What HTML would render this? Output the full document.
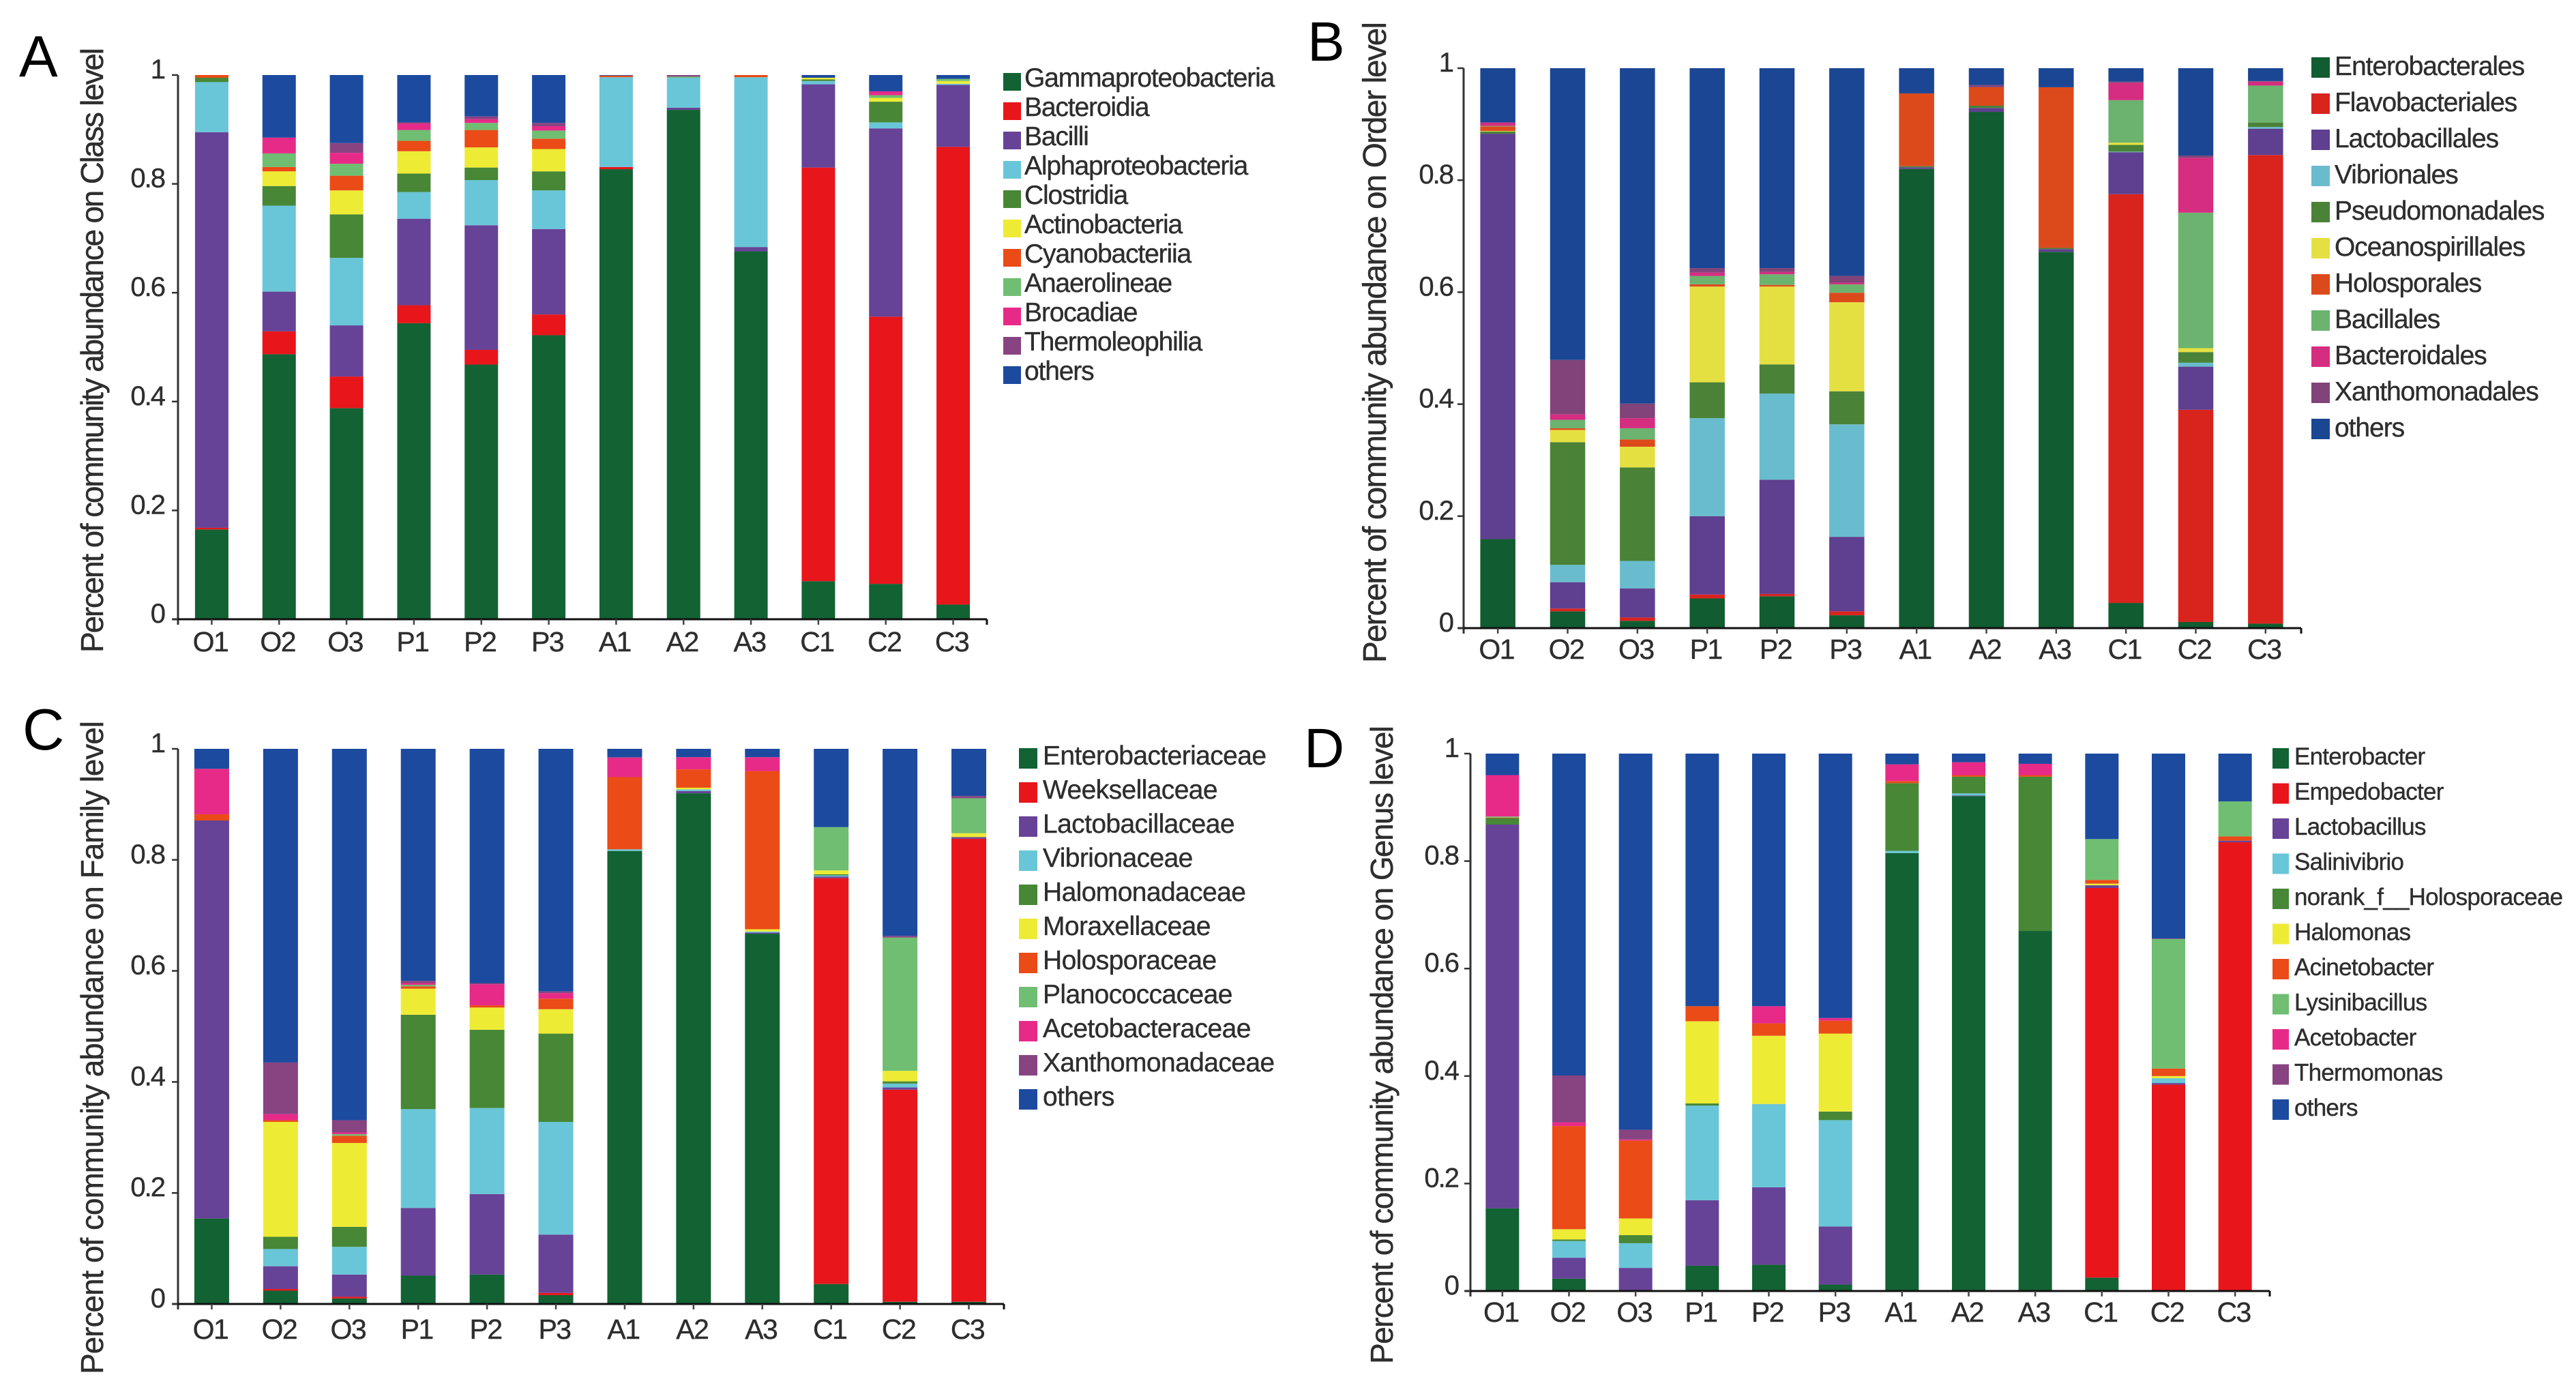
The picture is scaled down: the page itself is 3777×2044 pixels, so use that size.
<!DOCTYPE html>
<html lang="en">
<head>
<meta charset="utf-8">
<title>Community abundance stacked bars</title>
<style>
html,body{margin:0;padding:0;background:#fff;width:3777px;height:2044px;overflow:hidden}
svg{display:block}
text{font-family:"Liberation Sans",Arial,sans-serif;fill:#2e2e2e;stroke:#2e2e2e;stroke-width:.4}
</style>
</head>
<body>
<svg id="figure" xmlns="http://www.w3.org/2000/svg" width="3777" height="2044" viewBox="0 0 3777 2044"></svg>
<script>
const categories = ['O1','O2','O3','P1','P2','P3','A1','A2','A3','C1','C2','C3'];
const yTickValues = [0,0.2,0.4,0.6,0.8,1];
const yTickLabels = ['0','0.2','0.4','0.6','0.8','1'];

const classNames = ['Gammaproteobacteria','Bacteroidia','Bacilli','Alphaproteobacteria','Clostridia','Actinobacteria','Cyanobacteriia','Anaerolineae','Brocadiae','Thermoleophilia','others'];
const orderNames = ['Enterobacterales','Flavobacteriales','Lactobacillales','Vibrionales','Pseudomonadales','Oceanospirillales','Holosporales','Bacillales','Bacteroidales','Xanthomonadales','others'];
const familyNames = ['Enterobacteriaceae','Weeksellaceae','Lactobacillaceae','Vibrionaceae','Halomonadaceae','Moraxellaceae','Holosporaceae','Planococcaceae','Acetobacteraceae','Xanthomonadaceae','others'];
const genusNames = ['Enterobacter','Empedobacter','Lactobacillus','Salinivibrio','norank_f__Holosporaceae','Halomonas','Acinetobacter','Lysinibacillus','Acetobacter','Thermomonas','others'];

/* one row per sample (O1..C3), one value per taxon in legend order, bottom of the stack first */
const classValues = [
 [.165,.003,.727,.092,.008,0,.005,0,0,0,0],
 [.487,.042,.073,.158,.036,.027,.008,.025,.029,0,.115],
 [.388,.058,.094,.124,.080,.044,.027,.022,.020,.018,.125],
 [.544,.033,.159,.049,.034,.041,.019,.020,.012,.002,.087],
 [.468,.027,.229,.083,.023,.037,.032,.013,.007,.005,.076],
 [.522,.038,.157,.071,.035,.041,.019,.015,.008,.006,.088],
 [.827,.004,0,.165,0,0,.003,0,0,0,.001],
 [.936,0,.004,.055,0,0,0,.002,0,.003,0],
 [.676,0,.008,.312,0,0,.004,0,0,0,0],
 [.070,.760,.153,.006,.003,.003,0,0,0,0,.005],
 [.065,.491,.346,.011,.038,.007,0,.005,.007,0,.030],
 [.027,.841,.114,.002,0,.005,0,.004,0,0,.007]
];
const orderValues = [
 [.159,0,.724,0,.004,.001,.008,.001,.006,0,.097],
 [.030,.005,.047,.031,.219,.022,.003,.015,.010,.097,.521],
 [.013,.006,.052,.049,.167,.037,.013,.020,.018,.026,.599],
 [.053,.007,.140,.175,.064,.171,.004,.015,.006,.008,.357],
 [.057,.004,.204,.154,.052,.139,.003,.019,.004,.007,.357],
 [.023,.007,.133,.201,.059,.159,.017,.015,.003,.012,.371],
 [.820,0,.003,0,.002,0,.130,0,0,0,.045],
 [.922,0,.007,0,.004,0,.033,0,0,.004,.030],
 [.672,0,.005,0,.002,0,.287,0,0,0,.034],
 [.045,.730,.075,.001,.012,.004,0,.076,.031,.002,.024],
 [.011,.379,.077,.007,.019,.007,0,.242,.098,.004,.156],
 [.008,.837,.047,.003,.008,0,0,.066,.007,.001,.023]
];
const familyValues = [
 [.154,0,.717,0,0,0,.011,0,.082,0,.036],
 [.024,.003,.041,.031,.022,.207,.003,0,.011,.093,.565],
 [.010,.003,.040,.050,.036,.151,.013,.003,.003,.022,.669],
 [.051,0,.122,.178,.170,.047,.004,.003,.003,.004,.418],
 [.053,0,.145,.155,.141,.040,.004,0,.038,.002,.422],
 [.016,.004,.105,.203,.159,.044,.019,0,.010,.003,.437],
 [.816,0,0,.003,0,0,.130,0,.035,.001,.015],
 [.920,0,.004,.003,0,.003,.033,0,.022,0,.015],
 [.667,0,.002,.002,0,.004,.285,0,.025,0,.015],
 [.036,.731,.003,.002,.002,.007,0,.078,0,0,.141],
 [.004,.382,.004,.007,.004,.019,0,.240,0,.003,.337],
 [.004,.834,.003,0,0,.007,0,.063,0,.004,.085]
];
const genusValues = [
 [.154,0,.714,0,.012,0,.001,.002,.077,0,.040],
 [.023,0,.039,.031,.003,.019,.192,0,.007,.087,.599],
 [0,0,.043,.046,.015,.031,.145,0,.002,.018,.700],
 [.047,0,.122,.176,.004,.153,.028,0,0,0,.470],
 [.049,0,.144,.155,0,.127,.023,0,.032,0,.470],
 [.012,0,.108,.198,.016,.145,.024,0,.005,0,.492],
 [.815,0,0,.004,.126,0,.004,0,.031,0,.020],
 [.921,0,.001,.004,.031,0,.003,0,.024,0,.016],
 [.670,0,0,0,.287,0,.003,0,.021,0,.019],
 [.025,.725,.005,0,0,.003,.007,.076,0,0,.159],
 [0,.384,.003,.009,0,.004,.014,.241,0,.001,.344],
 [0,.835,.003,0,0,0,.008,.065,0,0,.089]
];

const brightColors = ['#126234','#e8151b','#674397','#69c6d8','#478735','#eeeb35','#ea4b17','#6fbe72','#e72a88','#884381','#1c4a9f'];
const mutedColors = ['#115c30','#d9241e','#5f3f8f','#69bccd','#4a8238','#e5e042','#dc4a1c','#6bb36e','#d52d80','#814379','#1a4694'];

const svg = document.getElementById('figure');
const NS = 'http://www.w3.org/2000/svg';

function make(tag, attrs, parent) {
  const el = document.createElementNS(NS, tag);
  for (const k in attrs) el.setAttribute(k, attrs[k]);
  parent.appendChild(el);
  return el;
}

function drawPanel(p) {
  const root = make('g', {}, svg);
  
  

  const band = (p.x1 - p.x0) / p.categories.length;
  const xScale = i => p.x0 + band * (i + 0.5) + p.dx;
  const yScale = v => p.yBase - (p.yBase - p.yTop) * v;

  const letter = make('text', {x: p.letterX, y: p.letterY, 'font-size': p.letterSize, style: 'fill:#000;stroke:none'}, root);
  letter.textContent = p.letter;
  
  

  p.values.forEach((row, i) => {
    const group = make('g', {}, root);
    
    
    let cumulative = 0;
    row.forEach((v, s) => {
      if (v <= 0) return;
      const top = yScale(cumulative + v);
      const bottom = yScale(cumulative);
      const seg = make('rect', {
        x: xScale(i) - p.barW / 2, y: top, width: p.barW, height: bottom - top, fill: p.colors[s]
      }, group);
      
      
      cumulative += v;
    });
  });

  const yAxis = make('line', {x1: p.x0, x2: p.x0, y1: p.yTop, y2: p.yBase + 8, stroke: '#333', 'stroke-width': 3}, root);
  
  
  const xAxis = make('line', {x1: p.x0 - 8, x2: p.x1, y1: p.yBase, y2: p.yBase, stroke: '#111', 'stroke-width': 3}, root);
  
  
  make('line', {x1: p.x1, x2: p.x1, y1: p.yBase, y2: p.yBase + 8, stroke: '#111', 'stroke-width': 3}, root);

  yTickValues.forEach((v, i) => {
    make('line', {x1: p.x0 - 9, x2: p.x0, y1: yScale(v), y2: yScale(v), stroke: '#333', 'stroke-width': 2.5}, root);
    const t = make('text', {x: p.x0 - p.yLabelGap, y: yScale(v) + 5, 'text-anchor': 'end', 'font-size': 40, 'letter-spacing': '-2'}, root);
    t.textContent = yTickLabels[i];
    
    
  });

  p.categories.forEach((c, i) => {
    make('line', {x1: xScale(i), x2: xScale(i), y1: p.yBase, y2: p.yBase + 8, stroke: '#444', 'stroke-width': 2.5}, root);
    const t = make('text', {x: xScale(i) - 2, y: p.yBase + p.xLabelGap, 'text-anchor': 'middle', 'font-size': 41, 'letter-spacing': '-1.5'}, root);
    t.textContent = c;
    
    
  });

  const title = make('text', {
    transform: 'translate(' + p.titleX + ',' + p.titleStart + ') rotate(-90)',
    'font-size': p.titleSize, textLength: p.titleLength, lengthAdjust: 'spacing'
  }, root);
  title.textContent = p.title;
  
  

  p.names.forEach((name, i) => {
    const entry = make('g', {}, root);
    
    
    make('rect', {x: p.legendX, y: p.legendY + i * p.legendStep, width: p.swatchW, height: p.swatchH, fill: p.colors[i]}, entry);
    const t = make('text', {
      x: p.legendTextX, y: p.legendBase + i * p.legendStep,
      'font-size': p.legendSize, 'letter-spacing': p.legendSpacing
    }, entry);
    t.textContent = name;
  });
}

drawPanel({
  letter: 'A', letterX: 28, letterY: 112, letterSize: 85,
  title: 'Percent of community abundance on Class level', titleX: 151, titleStart: 957, titleLength: 887, titleSize: 46,
  x0: 261, x1: 1447, yTop: 110, yBase: 908, dx: 0, barW: 49, yLabelGap: 20, xLabelGap: 47,
  categories: categories, names: classNames, values: classValues, colors: brightColors,
  legendX: 1471, legendY: 107, legendStep: 43, swatchW: 26, swatchH: 26,
  legendTextX: 1502, legendBase: 127, legendSize: 39, legendSpacing: '-1.15'
});
drawPanel({
  letter: 'B', letterX: 1917, letterY: 89, letterSize: 82,
  title: 'Percent of community abundance on Order level', titleX: 2032, titleStart: 972, titleLength: 940, titleSize: 48,
  x0: 2146, x1: 3374, yTop: 100, yBase: 921, dx: -1, barW: 51.5, yLabelGap: 16, xLabelGap: 45,
  categories: categories, names: orderNames, values: orderValues, colors: mutedColors,
  legendX: 3389, legendY: 84, legendStep: 53, swatchW: 27, swatchH: 30,
  legendTextX: 3423, legendBase: 110, legendSize: 39, legendSpacing: '-1.05'
});
drawPanel({
  letter: 'C', letterX: 33, letterY: 1099, letterSize: 85,
  title: 'Percent of community abundance on Family level', titleX: 151, titleStart: 2015, titleLength: 958, titleSize: 46,
  x0: 261, x1: 1472, yTop: 1098, yBase: 1912, dx: -1, barW: 51, yLabelGap: 20, xLabelGap: 51,
  categories: categories, names: familyNames, values: familyValues, colors: brightColors,
  legendX: 1494, legendY: 1097, legendStep: 50, swatchW: 27, swatchH: 30,
  legendTextX: 1529, legendBase: 1121, legendSize: 39, legendSpacing: '-0.6'
});
drawPanel({
  letter: 'D', letterX: 1912, letterY: 1125, letterSize: 82,
  title: 'Percent of community abundance on Genus level', titleX: 2042, titleStart: 2000, titleLength: 936, titleSize: 46,
  x0: 2156, x1: 3328, yTop: 1105, yBase: 1893, dx: -2, barW: 49, yLabelGap: 18, xLabelGap: 45,
  categories: categories, names: genusNames, values: genusValues, colors: brightColors,
  legendX: 3332, legendY: 1097, legendStep: 51.5, swatchW: 24, swatchH: 30,
  legendTextX: 3364, legendBase: 1121, legendSize: 35, legendSpacing: '-0.75'
});
</script>
</body>
</html>
